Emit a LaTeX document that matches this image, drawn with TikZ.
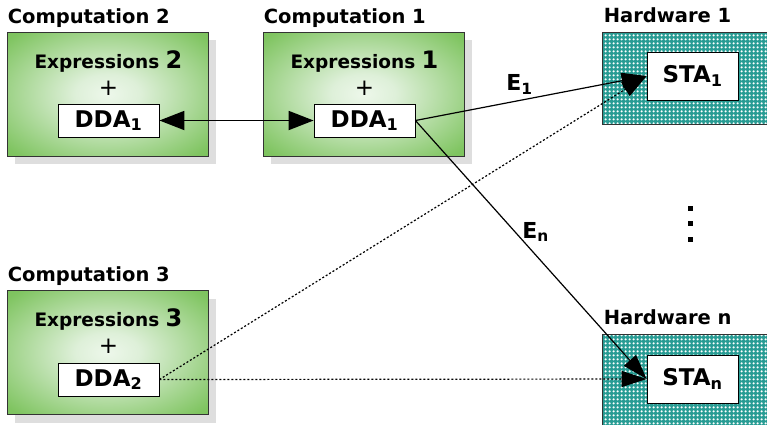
\documentclass[tikz,border=0pt]{standalone}
\usepackage{fontspec}
\setmainfont{DejaVu Sans}
\usetikzlibrary{arrows.meta,shadows,patterns}
\definecolor{hwteal}{RGB}{40,156,148}
\pgfdeclareradialshading{compglow}{\pgfpoint{0bp}{0bp}}{%
  rgb(0bp)=(0.93,0.97,0.92); rgb(8bp)=(0.87,0.94,0.85);
  rgb(33bp)=(0.50,0.77,0.38); rgb(50bp)=(0.42,0.73,0.29); rgb(72bp)=(0.38,0.70,0.25)}
\pgfdeclarepatternformonly{hwcross}{\pgfpoint{0pt}{0pt}}{\pgfpoint{4pt}{4pt}}{\pgfpoint{4pt}{4pt}}{%
  \pgfpathrectangle{\pgfpoint{0.8pt}{1.5pt}}{\pgfpoint{2.4pt}{1pt}}
  \pgfpathrectangle{\pgfpoint{1.5pt}{0.8pt}}{\pgfpoint{1pt}{2.4pt}}
  \pgfusepath{fill}}
\begin{document}
\begin{tikzpicture}[x=1pt,y=-1pt,font=\bfseries]
        \tikzstyle{compbox} = [rectangle,draw=black!80,line width=0.8pt,inner sep=0pt,
          minimum width=201pt,minimum height=124pt,shading=compglow,
          drop shadow={shadow xshift=8pt,shadow yshift=-8pt,fill=black!13,opacity=1}]
        \tikzstyle{hwbox} = [rectangle,draw=black!80,line width=0.8pt,inner sep=0pt,
          minimum width=180pt,minimum height=92pt,preaction={fill=hwteal},
          pattern=hwcross,pattern color=white]
        \tikzstyle{ddabox} = [rectangle,draw=black,fill=white,line width=0.8pt,inner sep=0pt,
          minimum width=101pt,minimum height=33pt,font=\bfseries\fontsize{23}{23}\selectfont]
        \tikzstyle{stabox} = [ddabox,minimum width=91pt,minimum height=48pt]
        \tikzstyle{title} = [anchor=base west,inner sep=0pt,font=\bfseries\fontsize{19.5}{19.5}\selectfont]
        \tikzstyle{expr} = [inner sep=0pt,font=\bfseries\fontsize{18.5}{18.5}\selectfont]
        \tikzstyle{plus} = [inner sep=0pt,font=\mdseries\fontsize{23}{23}\selectfont]
        \tikzstyle{elabel} = [inner sep=0pt,font=\bfseries\fontsize{22}{22}\selectfont]
        \tikzstyle{link} = [-{Triangle[length=25pt,width=16pt]},line width=1.2pt]
        \tikzstyle{weak} = [link,dash pattern=on 2pt off 2pt]
        \useasboundingbox (0,0) rectangle (767,424);
        \clip (0,0) rectangle (767,424);
        % computations
        \node[compbox] (c2) at (107.5,94) {};
        \node[compbox] (c1) at (363.5,94) {};
        \node[compbox] (c3) at (107.5,352.5) {};
        \node[title] (t2) at ([xshift=1pt,yshift=8pt]c2.north west) {Computation 2};
        \node[title] (t1) at ([xshift=1pt,yshift=8pt]c1.north west) {Computation 1};
        \node[title] (t3) at ([xshift=1pt,yshift=9pt]c3.north west) {Computation 3};
        \node[expr,anchor=base] (e2) at ([xshift=1pt,yshift=26pt]c2.center) {Expressions {\fontsize{24}{24}\selectfont 2}};
        \node[expr,anchor=base] (e1) at ([xshift=1pt,yshift=26pt]c1.center) {Expressions {\fontsize{24}{24}\selectfont 1}};
        \node[expr,anchor=base] (e3) at ([xshift=1pt,yshift=26pt]c3.center) {Expressions {\fontsize{24}{24}\selectfont 3}};
        \node[plus] (p2) at ([xshift=1pt,yshift=6pt]c2.center) {+};
        \node[plus] (p1) at ([xshift=1pt,yshift=6pt]c1.center) {+};
        \node[plus] (p3) at ([xshift=1pt,yshift=6pt]c3.center) {+};
        \node[ddabox] (d2) at ([xshift=1pt,yshift=-26.5pt]c2.center) {DDA\textsubscript{1}};
        \node[ddabox] (d1) at ([xshift=1pt,yshift=-26.5pt]c1.center) {DDA\textsubscript{1}};
        \node[ddabox] (d3) at ([xshift=1pt,yshift=-27pt]c3.center) {DDA\textsubscript{2}};
        % hardware
        \node[hwbox] (h1) at (692,78) {};
        \node[hwbox] (hn) at (692,380) {};
        \node[title] (th1) at ([xshift=2pt,yshift=9pt]h1.north west) {Hardware 1};
        \node[title] (thn) at ([xshift=2pt,yshift=9pt]hn.north west) {Hardware n};
        \node[stabox] (s1) at (692.5,76) {STA\textsubscript{1}};
        \node[stabox] (sn) at (692.5,379) {STA\textsubscript{n}};
        \foreach \y in {208,223,239}
          \fill (690,\y) +(-2.5,-2.5) rectangle +(2.5,2.5);
        % links
        \draw [{Triangle[length=25pt,width=19pt]}-{Triangle[length=25pt,width=19pt]},line width=1.8pt] (d2) -- (d1);
        \draw [link] (d1.east) -- node[elabel,pos=0.45,above=5pt] {E\textsubscript{1}} (s1.west);
        \draw [link] (d1.east) -- node[elabel,pos=0.43,right=7pt] {E\textsubscript{n}} (sn.west);
        \draw [weak] (d3.east) -- (s1.west);
        \draw [weak] (d3.east) -- (sn.west);
      \end{tikzpicture}
\end{document}
